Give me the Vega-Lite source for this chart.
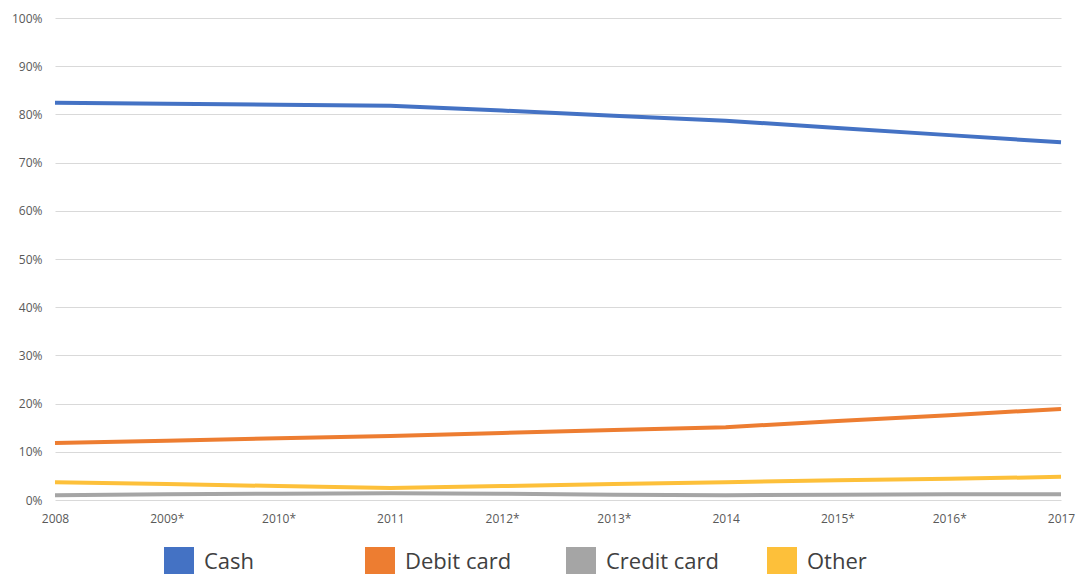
{
  "$schema": "https://vega.github.io/schema/vega-lite/v6.json",
  "autosize": "none",
  "width": 1006,
  "height": 482,
  "padding": {"left": 55, "top": 18, "right": 17, "bottom": 74},
  "background": "white",
  "config": {
    "view": {"stroke": null},
    "font": "Open Sans",
    "axis": {"labelFont": "Open Sans", "labelColor": "#595959", "labelFontSize": 12}
  },
  "data": {
    "values": [
      {"year": "2008", "type": "Cash", "share": 0.824},
      {"year": "2009*", "type": "Cash", "share": 0.822},
      {"year": "2010*", "type": "Cash", "share": 0.820},
      {"year": "2011", "type": "Cash", "share": 0.818},
      {"year": "2012*", "type": "Cash", "share": 0.808},
      {"year": "2013*", "type": "Cash", "share": 0.797},
      {"year": "2014", "type": "Cash", "share": 0.787},
      {"year": "2015*", "type": "Cash", "share": 0.772},
      {"year": "2016*", "type": "Cash", "share": 0.757},
      {"year": "2017", "type": "Cash", "share": 0.742},
      {"year": "2008", "type": "Debit card", "share": 0.118},
      {"year": "2009*", "type": "Debit card", "share": 0.123},
      {"year": "2010*", "type": "Debit card", "share": 0.128},
      {"year": "2011", "type": "Debit card", "share": 0.133},
      {"year": "2012*", "type": "Debit card", "share": 0.139},
      {"year": "2013*", "type": "Debit card", "share": 0.145},
      {"year": "2014", "type": "Debit card", "share": 0.151},
      {"year": "2015*", "type": "Debit card", "share": 0.164},
      {"year": "2016*", "type": "Debit card", "share": 0.176},
      {"year": "2017", "type": "Debit card", "share": 0.189},
      {"year": "2008", "type": "Credit card", "share": 0.010},
      {"year": "2009*", "type": "Credit card", "share": 0.012},
      {"year": "2010*", "type": "Credit card", "share": 0.013},
      {"year": "2011", "type": "Credit card", "share": 0.014},
      {"year": "2012*", "type": "Credit card", "share": 0.013},
      {"year": "2013*", "type": "Credit card", "share": 0.011},
      {"year": "2014", "type": "Credit card", "share": 0.010},
      {"year": "2015*", "type": "Credit card", "share": 0.011},
      {"year": "2016*", "type": "Credit card", "share": 0.012},
      {"year": "2017", "type": "Credit card", "share": 0.012},
      {"year": "2008", "type": "Other", "share": 0.037},
      {"year": "2009*", "type": "Other", "share": 0.033},
      {"year": "2010*", "type": "Other", "share": 0.029},
      {"year": "2011", "type": "Other", "share": 0.025},
      {"year": "2012*", "type": "Other", "share": 0.029},
      {"year": "2013*", "type": "Other", "share": 0.033},
      {"year": "2014", "type": "Other", "share": 0.037},
      {"year": "2015*", "type": "Other", "share": 0.041},
      {"year": "2016*", "type": "Other", "share": 0.044},
      {"year": "2017", "type": "Other", "share": 0.048}
    ]
  },
  "mark": {"type": "line", "strokeWidth": 4, "strokeCap": "butt"},
  "encoding": {
    "x": {
      "field": "year",
      "type": "ordinal",
      "scale": {"type": "point", "padding": 0},
      "axis": {
        "title": null,
        "labelAngle": 0,
        "domain": false,
        "ticks": false,
        "grid": false,
        "labelPadding": 13
      }
    },
    "y": {
      "field": "share",
      "type": "quantitative",
      "scale": {"domain": [0, 1], "nice": false},
      "axis": {
        "title": null,
        "format": ".0%",
        "values": [0, 0.1, 0.2, 0.3, 0.4, 0.5, 0.6, 0.7, 0.8, 0.9, 1],
        "domain": false,
        "ticks": false,
        "gridColor": "#d9d9d9",
        "gridWidth": 1,
        "labelPadding": 13
      }
    },
    "color": {
      "field": "type",
      "type": "nominal",
      "sort": ["Cash", "Debit card", "Credit card", "Other"],
      "scale": {
        "domain": ["Cash", "Debit card", "Credit card", "Other"],
        "range": ["#4472C4", "#ED7D31", "#A5A5A5", "#FDC03A"]
      },
      "legend": {
        "title": null,
        "orient": "none",
        "legendX": 109,
        "legendY": 529,
        "direction": "horizontal",
        "columns": 4,
        "gridAlign": "all",
        "symbolType": "square",
        "symbolSize": 900,
        "symbolStrokeWidth": 0,
        "symbolOpacity": 1,
        "labelFont": "Open Sans",
        "labelFontSize": 22,
        "labelColor": "#404040",
        "labelOffset": 10,
        "columnPadding": 48,
        "labelLimit": 300,
        "encode": {
          "symbols": {
            "update": {
              "fill": {"scale": "color", "field": "value"},
              "fillOpacity": {"value": 1}
            }
          }
        }
      }
    }
  }
}
